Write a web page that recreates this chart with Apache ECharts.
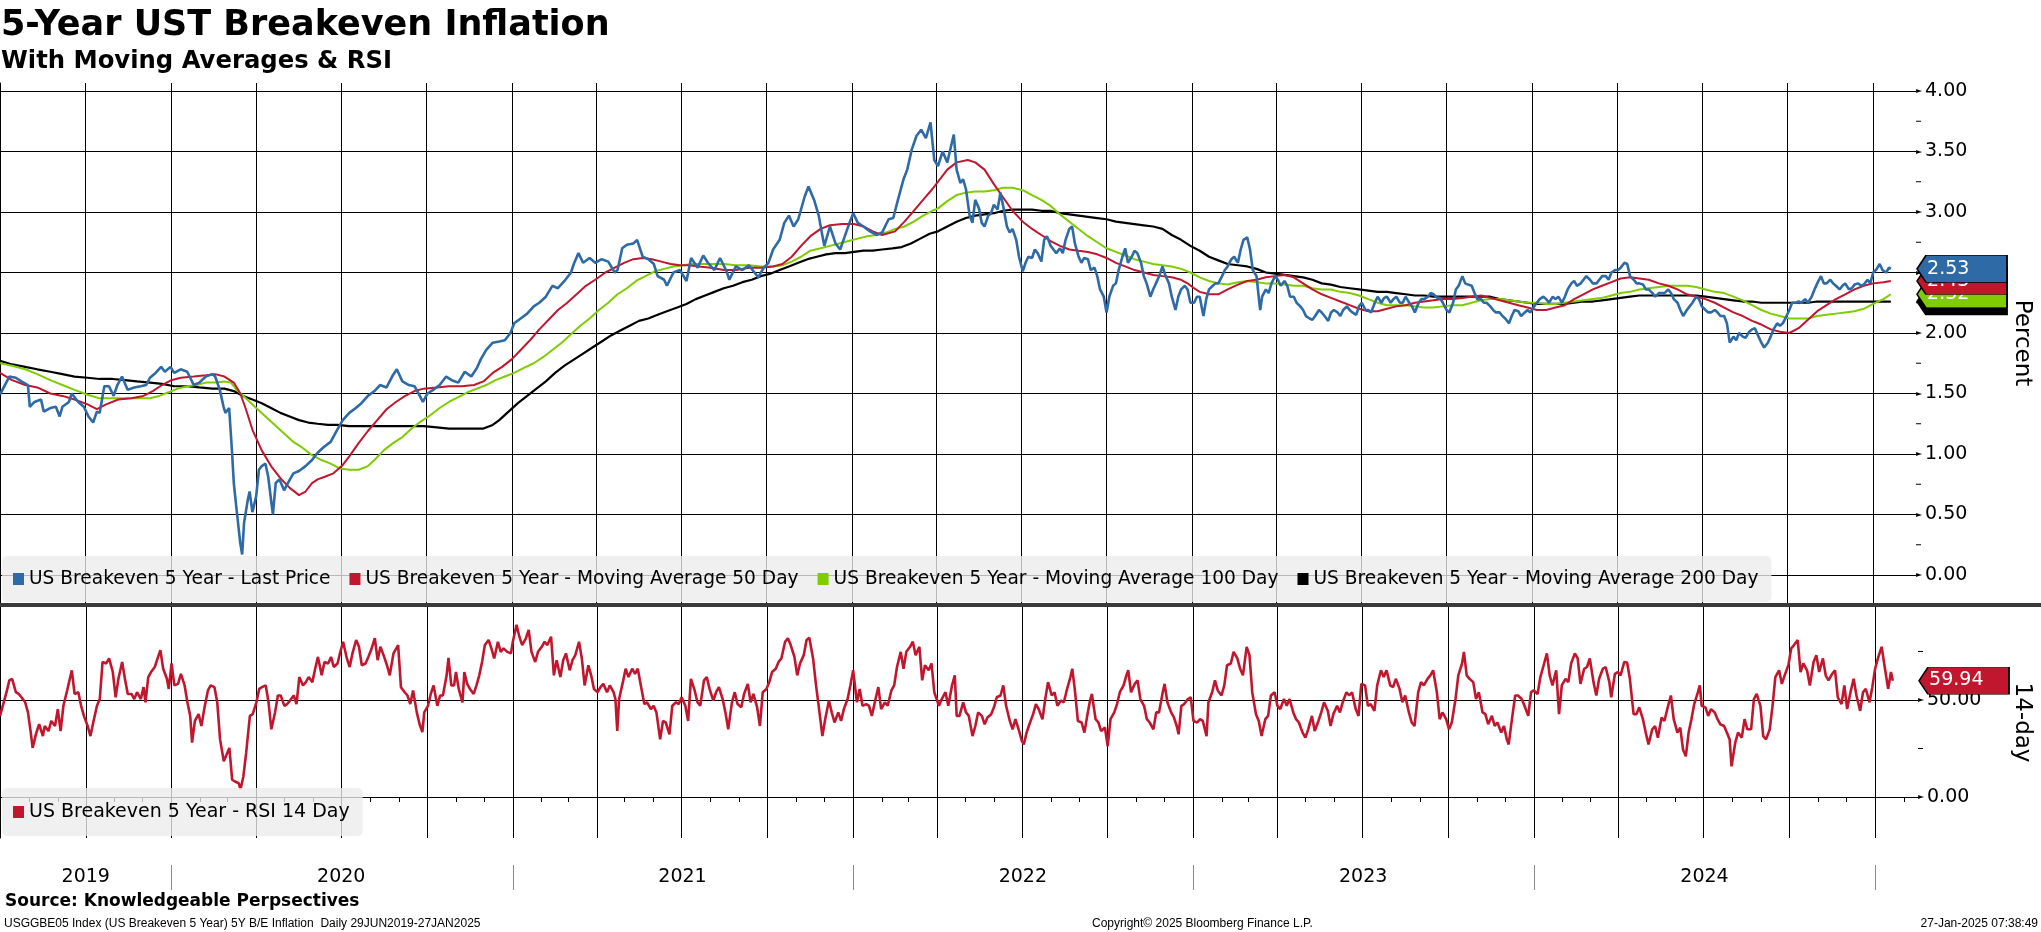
<!DOCTYPE html>
<html><head><meta charset="utf-8">
<script src="https://cdn.jsdelivr.net/npm/echarts@6/dist/echarts.min.js"></script>
<style>html,body{margin:0;padding:0;background:#fff}#c{width:2041px;height:932px}</style>
</head><body><div id="c"></div>
<script>
// x values are day offsets from 2019-07-01 (day 0)
const START = Date.UTC(2019, 6, 1);
const dayOf = s => Math.round((Date.parse(s + 'T00:00:00Z') - START) / 86400000);
const X_MAX_DATE = '2025-02-16';

const quarterLines = ['2019-10-01','2020-01-01','2020-04-01','2020-07-01','2020-10-01','2021-01-01','2021-04-01','2021-07-01','2021-10-01','2022-01-01','2022-04-01','2022-07-01','2022-10-01','2023-01-01','2023-04-01','2023-07-01','2023-10-01','2024-01-01','2024-04-01','2024-07-01','2024-10-01','2025-01-01'];
const yearStarts = ['2020-01-01','2021-01-01','2022-01-01','2023-01-01','2024-01-01','2025-01-01'];
const yearLabelDates = ['2019-10-01','2020-07-01','2021-07-02','2022-07-02','2023-07-02','2024-07-02'];
const yearLabels = ['2019','2020','2021','2022','2023','2024'];
const priceTicks = [0,0.5,1,1.5,2,2.5,3,3.5,4];
const priceMinorTicks = [0.25,0.75,1.25,1.75,2.25,2.75,3.25,3.75];
const rsiTicks = [0,50];
const rsiMinorTicks = [25,75];

const names = {
  last: 'US Breakeven 5 Year - Last Price',
  ma50: 'US Breakeven 5 Year - Moving Average 50 Day',
  ma100: 'US Breakeven 5 Year - Moving Average 100 Day',
  ma200: 'US Breakeven 5 Year - Moving Average 200 Day',
  rsi: 'US Breakeven 5 Year - RSI 14 Day'
};

const lastPrice = [[0,1.49],[10,1.64],[17,1.63],[23,1.60],[30,1.57],[32,1.39],[37,1.43],[44,1.45],[47,1.35],[54,1.38],[60,1.39],[64,1.31],[67,1.39],[74,1.43],[77,1.50],[84,1.43],[90,1.39],[95,1.31],[100,1.26],[104,1.35],[107,1.34],[112,1.56],[117,1.56],[122,1.48],[126,1.57],[131,1.64],[137,1.53],[144,1.55],[151,1.56],[157,1.57],[161,1.63],[167,1.67],[173,1.72],[177,1.68],[183,1.72],[187,1.67],[194,1.70],[201,1.68],[208,1.57],[214,1.59],[221,1.64],[228,1.66],[231,1.64],[236,1.53],[240,1.39],[242,1.34],[246,1.38],[249,1.03],[251,0.76],[254,0.54],[258,0.26],[260,0.17],[262,0.43],[266,0.62],[268,0.69],[271,0.52],[275,0.65],[278,0.87],[281,0.90],[285,0.92],[288,0.81],[291,0.62],[293,0.50],[296,0.76],[300,0.79],[305,0.70],[309,0.76],[315,0.84],[321,0.86],[328,0.90],[335,0.95],[341,1.01],[348,1.06],[355,1.10],[362,1.20],[368,1.28],[375,1.34],[382,1.38],[388,1.42],[395,1.48],[402,1.52],[408,1.57],[415,1.55],[421,1.64],[426,1.70],[432,1.60],[439,1.57],[445,1.56],[450,1.49],[454,1.43],[459,1.50],[465,1.53],[472,1.57],[479,1.64],[485,1.61],[492,1.59],[499,1.68],[506,1.64],[512,1.71],[516,1.78],[522,1.86],[529,1.92],[536,1.93],[542,1.94],[548,2.00],[552,2.08],[559,2.12],[566,2.16],[573,2.22],[579,2.25],[586,2.30],[593,2.39],[599,2.37],[606,2.43],[613,2.50],[616,2.57],[621,2.66],[626,2.58],[633,2.62],[639,2.58],[646,2.61],[653,2.59],[660,2.50],[663,2.52],[668,2.70],[673,2.73],[680,2.74],[684,2.77],[690,2.63],[696,2.61],[702,2.57],[706,2.47],[713,2.44],[716,2.39],[723,2.50],[730,2.52],[737,2.43],[742,2.62],[749,2.54],[755,2.64],[760,2.58],[767,2.52],[773,2.62],[780,2.51],[783,2.44],[790,2.55],[797,2.52],[804,2.56],[810,2.50],[814,2.46],[820,2.54],[825,2.58],[830,2.69],[837,2.77],[842,2.91],[847,2.97],[852,2.88],[857,2.94],[864,3.13],[868,3.21],[874,3.10],[879,2.97],[883,2.80],[885,2.72],[891,2.88],[897,2.74],[902,2.69],[907,2.80],[912,2.91],[916,2.99],[921,2.91],[927,2.88],[934,2.84],[941,2.81],[947,2.83],[954,2.94],[959,2.95],[964,3.10],[970,3.27],[974,3.35],[979,3.52],[984,3.63],[989,3.68],[994,3.61],[999,3.74],[1003,3.43],
[1007,3.38],[1012,3.50],[1017,3.41],[1024,3.64],[1027,3.35],[1031,3.24],[1034,3.27],[1037,3.19],[1041,2.97],[1044,2.91],[1047,3.10],[1051,3.03],[1054,2.91],[1057,2.88],[1061,2.97],[1064,2.99],[1067,3.06],[1071,3.02],[1074,3.16],[1077,3.05],[1081,2.88],[1084,2.83],[1087,2.86],[1091,2.77],[1094,2.63],[1098,2.51],[1101,2.58],[1104,2.63],[1108,2.62],[1111,2.69],[1114,2.66],[1118,2.59],[1121,2.77],[1124,2.80],[1128,2.72],[1131,2.69],[1134,2.66],[1138,2.70],[1141,2.66],[1144,2.77],[1148,2.86],[1151,2.88],[1154,2.74],[1158,2.63],[1161,2.58],[1164,2.62],[1168,2.61],[1171,2.52],[1175,2.54],[1178,2.47],[1181,2.36],[1185,2.30],[1188,2.17],[1191,2.30],[1195,2.39],[1198,2.41],[1201,2.52],[1205,2.63],[1208,2.70],[1211,2.58],[1215,2.63],[1218,2.68],[1221,2.66],[1225,2.58],[1228,2.47],[1231,2.41],[1235,2.30],[1238,2.36],[1241,2.41],[1245,2.48],[1248,2.55],[1251,2.48],[1255,2.41],[1258,2.30],[1262,2.19],[1265,2.30],[1268,2.36],[1272,2.39],[1275,2.36],[1278,2.25],[1282,2.25],[1285,2.30],[1288,2.30],[1292,2.14],[1295,2.28],[1298,2.36],[1302,2.39],[1305,2.41],[1308,2.41],[1312,2.47],[1315,2.52],[1318,2.55],[1322,2.61],[1325,2.63],[1329,2.58],[1332,2.69],[1335,2.77],[1339,2.79],[1342,2.69],[1345,2.52],[1349,2.47],[1352,2.25],[1353,2.19],[1355,2.30],[1359,2.36],[1362,2.33],[1365,2.41],[1369,2.47],[1372,2.44],[1375,2.39],[1379,2.43],[1382,2.39],[1385,2.30],[1389,2.30],[1392,2.25],[1396,2.22],[1399,2.19],[1402,2.14],[1406,2.12],[1409,2.11],[1412,2.14],[1416,2.19],[1419,2.17],[1422,2.14],[1426,2.10],[1429,2.17],[1432,2.19],[1436,2.17],[1439,2.14],[1442,2.19],[1446,2.22],[1449,2.19],[1452,2.17],[1456,2.15],[1459,2.22],[1462,2.25],[1466,2.19],[1469,2.19],[1472,2.17],[1476,2.25],[1479,2.30],[1483,2.25],[1486,2.29],[1489,2.30],[1493,2.25],[1496,2.28],[1499,2.30],[1503,2.25],[1506,2.25],[1509,2.30],[1513,2.25],[1516,2.22],[1519,2.17],[1523,2.25],[1526,2.28],[1529,2.28],[1533,2.30],[1536,2.33],[1539,2.32],[1543,2.29],[1546,2.29],[1549,2.25],[1553,2.19],[1556,2.17],[1560,2.25],[1563,2.36],[1566,2.39],[1570,2.47],[1573,2.41],[1576,2.40],[1580,2.39],[1583,2.33],[1586,2.28],[1590,2.28],[1593,2.25],[1596,2.25],[1600,2.22],[1603,2.19],[1606,2.17],[1610,2.17],[1613,2.14],[1616,2.12],[1620,2.08],[1623,2.14],[1626,2.19],[1630,2.18],[1633,2.14],[1637,2.17],[1640,2.19],[1643,2.17],[1647,2.22],[1650,2.25],[1653,2.28],[1657,2.30],[1660,2.28],[1663,2.25],[1667,2.30],[1670,2.28],[1673,2.30],[1677,2.25],[1680,2.30],[1683,2.36],[1687,2.41],[1690,2.43],[1693,2.39],[1697,2.41],[1700,2.44],[1703,2.47],[1707,2.44],[1710,2.41],[1714,2.41],[1717,2.44],[1720,2.47],[1724,2.47],[1727,2.44],[1730,2.50],[1734,2.52],[1737,2.52],[1740,2.54],[1744,2.58],[1747,2.57],[1750,2.47],[1754,2.44],[1757,2.41],[1760,2.41],[1764,2.40],[1767,2.36],[1770,2.36],[1774,2.33],[1777,2.30],[1781,2.33],[1784,2.33],[1787,2.33],[1791,2.36],[1794,2.33],[1797,2.28],[1801,2.25],[1804,2.19],[1807,2.14],[1811,2.19],[1814,2.22],[1817,2.25],[1821,2.30],[1824,2.28],[1827,2.22],[1831,2.19],[1834,2.17],[1837,2.17],[1841,2.19],[1844,2.17],[1847,2.14],[1851,2.14],[1854,2.08],[1857,1.92],[1861,1.97],[1864,1.94],[1867,2.00],[1871,1.97],[1874,1.96],[1878,2.01],[1881,2.03],[1884,2.04],[1888,1.97],[1891,1.92],[1894,1.88],[1898,1.92],[1901,1.97],[1904,2.03],[1908,2.08],[1911,2.06],[1914,2.08],[1918,2.14],[1921,2.19],[1924,2.25],[1928,2.25],[1931,2.26],[1934,2.25],[1938,2.28],[1941,2.25],[1945,2.30],[1948,2.36],[1951,2.41],[1955,2.47],[1958,2.41],[1961,2.41],[1965,2.44],[1968,2.41],[1971,2.39],[1975,2.36],[1978,2.39],[1981,2.41],[1985,2.36],[1988,2.37],[1991,2.40],[1995,2.41],[1998,2.39],[2001,2.40],[2005,2.44],[2008,2.41],[2011,2.50],[2014,2.52],[2018,2.57],[2021,2.52],[2025,2.50],[2028,2.54],[2030,2.53]];

const ma50 = [[0,1.67],[13,1.61],[27,1.57],[40,1.55],[54,1.50],[67,1.48],[80,1.45],[94,1.41],[104,1.37],[114,1.41],[127,1.45],[141,1.46],[154,1.48],[164,1.52],[174,1.57],[184,1.61],[194,1.63],[208,1.64],[221,1.65],[231,1.66],[241,1.64],[251,1.59],[258,1.50],[264,1.37],[271,1.20],[281,1.03],[291,0.90],[301,0.80],[311,0.72],[321,0.66],[328,0.69],[335,0.76],[341,0.79],[348,0.81],[358,0.84],[368,0.91],[375,0.98],[385,1.09],[395,1.19],[405,1.28],[415,1.37],[425,1.43],[435,1.48],[445,1.52],[455,1.54],[469,1.55],[482,1.56],[496,1.56],[509,1.57],[519,1.60],[529,1.67],[539,1.72],[549,1.78],[559,1.86],[569,1.94],[579,2.03],[589,2.11],[599,2.19],[609,2.25],[619,2.32],[629,2.39],[639,2.44],[650,2.50],[660,2.54],[670,2.58],[680,2.61],[690,2.62],[700,2.61],[710,2.59],[720,2.57],[730,2.56],[740,2.56],[750,2.55],[763,2.54],[777,2.52],[790,2.52],[804,2.54],[817,2.54],[830,2.55],[840,2.57],[850,2.63],[860,2.72],[870,2.80],[881,2.86],[891,2.89],[904,2.90],[917,2.90],[927,2.88],[937,2.84],[947,2.81],[961,2.84],[971,2.92],[981,3.01],[991,3.10],[1001,3.19],[1017,3.35],[1027,3.41],[1039,3.43],[1047,3.41],[1057,3.35],[1067,3.23],[1077,3.12],[1087,3.01],[1098,2.92],[1108,2.86],[1118,2.81],[1128,2.76],[1138,2.72],[1148,2.69],[1158,2.68],[1168,2.67],[1178,2.65],[1188,2.62],[1198,2.58],[1208,2.55],[1218,2.52],[1228,2.50],[1238,2.48],[1248,2.47],[1258,2.46],[1268,2.44],[1275,2.41],[1282,2.37],[1288,2.34],[1298,2.32],[1308,2.32],[1318,2.36],[1329,2.40],[1339,2.43],[1349,2.44],[1359,2.46],[1369,2.47],[1379,2.48],[1389,2.46],[1399,2.41],[1409,2.36],[1419,2.32],[1429,2.29],[1439,2.26],[1449,2.23],[1459,2.20],[1469,2.18],[1479,2.18],[1489,2.20],[1499,2.22],[1509,2.23],[1519,2.25],[1529,2.26],[1539,2.27],[1549,2.28],[1560,2.28],[1570,2.29],[1580,2.30],[1590,2.31],[1600,2.29],[1610,2.27],[1620,2.25],[1630,2.23],[1640,2.21],[1650,2.19],[1660,2.19],[1670,2.21],[1680,2.23],[1690,2.28],[1700,2.32],[1710,2.36],[1720,2.39],[1730,2.42],[1740,2.45],[1750,2.46],[1760,2.45],[1770,2.44],[1781,2.41],[1791,2.39],[1801,2.36],[1811,2.32],[1821,2.30],[1831,2.28],[1841,2.25],[1851,2.21],[1861,2.17],[1871,2.14],[1881,2.10],[1891,2.07],[1901,2.03],[1911,2.01],[1921,2.00],[1931,2.04],[1941,2.11],[1951,2.18],[1961,2.23],[1971,2.28],[1981,2.32],[1991,2.36],[2001,2.39],[2011,2.41],[2022,2.42],[2030,2.43]];

const ma100 = [[0,1.75],[13,1.73],[27,1.70],[40,1.66],[54,1.61],[67,1.57],[80,1.53],[94,1.49],[107,1.46],[121,1.46],[134,1.46],[147,1.46],[161,1.46],[171,1.48],[181,1.51],[191,1.54],[201,1.56],[211,1.57],[221,1.59],[231,1.59],[241,1.60],[248,1.59],[254,1.53],[264,1.46],[275,1.38],[285,1.31],[295,1.24],[305,1.17],[315,1.10],[325,1.05],[335,0.99],[345,0.95],[355,0.92],[365,0.88],[375,0.87],[385,0.87],[395,0.90],[402,0.95],[412,1.03],[422,1.09],[432,1.14],[442,1.21],[452,1.27],[462,1.32],[472,1.38],[482,1.43],[492,1.47],[502,1.51],[512,1.54],[522,1.57],[532,1.61],[542,1.64],[552,1.67],[562,1.71],[573,1.75],[583,1.80],[593,1.86],[603,1.92],[613,1.99],[623,2.06],[633,2.12],[643,2.19],[653,2.25],[663,2.32],[673,2.37],[683,2.43],[693,2.47],[703,2.51],[713,2.53],[723,2.55],[733,2.56],[743,2.57],[753,2.57],[763,2.57],[777,2.57],[790,2.56],[804,2.56],[817,2.55],[830,2.55],[840,2.56],[850,2.59],[860,2.63],[870,2.68],[881,2.70],[891,2.72],[901,2.74],[911,2.76],[921,2.78],[931,2.80],[941,2.81],[951,2.83],[961,2.86],[971,2.88],[981,2.92],[991,2.97],[1001,3.01],[1007,3.03],[1017,3.09],[1027,3.14],[1037,3.16],[1047,3.17],[1057,3.17],[1067,3.18],[1077,3.20],[1087,3.20],[1098,3.18],[1108,3.14],[1118,3.10],[1128,3.05],[1138,2.98],[1148,2.92],[1158,2.86],[1168,2.80],[1178,2.75],[1188,2.70],[1198,2.67],[1208,2.64],[1218,2.61],[1228,2.59],[1238,2.57],[1248,2.56],[1258,2.55],[1268,2.53],[1278,2.50],[1288,2.46],[1298,2.43],[1308,2.41],[1318,2.40],[1329,2.42],[1339,2.43],[1349,2.42],[1359,2.41],[1369,2.41],[1379,2.40],[1389,2.39],[1399,2.39],[1409,2.37],[1419,2.36],[1429,2.36],[1439,2.34],[1449,2.33],[1459,2.31],[1469,2.28],[1479,2.25],[1489,2.23],[1499,2.23],[1509,2.23],[1519,2.22],[1529,2.21],[1539,2.21],[1549,2.22],[1560,2.23],[1570,2.23],[1580,2.25],[1590,2.27],[1600,2.28],[1610,2.28],[1620,2.27],[1630,2.26],[1640,2.25],[1650,2.25],[1660,2.24],[1670,2.24],[1680,2.25],[1690,2.26],[1700,2.27],[1710,2.28],[1720,2.29],[1730,2.31],[1740,2.33],[1750,2.34],[1760,2.36],[1770,2.37],[1781,2.38],[1791,2.39],[1801,2.39],[1811,2.39],[1821,2.38],[1831,2.36],[1841,2.34],[1851,2.33],[1861,2.30],[1871,2.27],[1881,2.23],[1891,2.19],[1901,2.16],[1911,2.14],[1921,2.12],[1931,2.12],[1941,2.12],[1951,2.14],[1961,2.15],[1971,2.16],[1981,2.17],[1991,2.18],[2001,2.20],[2011,2.24],[2022,2.28],[2030,2.32]];

const ma200 = [[0,1.77],[13,1.74],[27,1.72],[40,1.70],[54,1.68],[67,1.66],[80,1.64],[94,1.63],[107,1.62],[121,1.62],[134,1.61],[147,1.60],[161,1.59],[174,1.58],[187,1.56],[201,1.56],[214,1.55],[228,1.54],[241,1.54],[251,1.52],[261,1.48],[271,1.45],[281,1.42],[291,1.38],[301,1.34],[311,1.31],[321,1.28],[331,1.26],[341,1.25],[352,1.24],[362,1.24],[375,1.23],[388,1.23],[402,1.23],[415,1.23],[429,1.23],[442,1.23],[455,1.23],[469,1.22],[482,1.21],[496,1.21],[509,1.21],[519,1.21],[529,1.24],[536,1.28],[546,1.35],[556,1.42],[566,1.48],[576,1.54],[586,1.60],[596,1.67],[606,1.73],[616,1.78],[626,1.83],[636,1.88],[646,1.93],[656,1.98],[666,2.02],[676,2.06],[686,2.10],[696,2.12],[706,2.15],[716,2.18],[727,2.21],[737,2.24],[747,2.28],[757,2.31],[767,2.34],[777,2.37],[787,2.39],[797,2.42],[807,2.44],[817,2.47],[827,2.49],[837,2.52],[847,2.55],[857,2.58],[867,2.61],[877,2.63],[887,2.65],[897,2.66],[907,2.66],[917,2.67],[927,2.68],[937,2.68],[947,2.69],[958,2.70],[968,2.71],[978,2.74],[988,2.78],[998,2.82],[1007,2.84],[1017,2.88],[1027,2.92],[1037,2.95],[1047,2.97],[1057,2.98],[1067,2.99],[1077,3.01],[1087,3.02],[1098,3.02],[1108,3.02],[1118,3.01],[1128,3.01],[1138,2.99],[1148,2.98],[1158,2.97],[1168,2.96],[1178,2.95],[1188,2.94],[1198,2.92],[1208,2.91],[1218,2.90],[1228,2.89],[1238,2.88],[1248,2.86],[1258,2.81],[1268,2.77],[1278,2.72],[1288,2.68],[1298,2.63],[1308,2.60],[1318,2.57],[1329,2.56],[1339,2.55],[1349,2.53],[1359,2.50],[1369,2.49],[1379,2.48],[1389,2.47],[1399,2.46],[1409,2.44],[1419,2.41],[1429,2.40],[1439,2.38],[1449,2.37],[1459,2.36],[1469,2.35],[1479,2.34],[1489,2.34],[1499,2.33],[1509,2.32],[1519,2.31],[1529,2.31],[1539,2.30],[1549,2.30],[1560,2.30],[1570,2.30],[1580,2.30],[1590,2.30],[1600,2.30],[1610,2.28],[1620,2.27],[1630,2.26],[1640,2.25],[1650,2.24],[1660,2.24],[1670,2.24],[1680,2.24],[1690,2.25],[1700,2.26],[1710,2.26],[1720,2.27],[1730,2.28],[1740,2.29],[1750,2.30],[1760,2.31],[1770,2.31],[1781,2.31],[1791,2.31],[1801,2.31],[1811,2.31],[1821,2.31],[1831,2.30],[1841,2.29],[1851,2.28],[1861,2.27],[1871,2.26],[1881,2.26],[1891,2.25],[1901,2.25],[1911,2.25],[1921,2.25],[1931,2.25],[1941,2.25],[1951,2.26],[1961,2.26],[1971,2.26],[1981,2.26],[1991,2.26],[2001,2.26],[2011,2.26],[2022,2.26],[2030,2.26]];

const rsi14 = [[0,41.8],[3,47.0],[7,54.0],[10,60.1],[13,60.9],[17,54.0],[20,53.1],[23,51.4],[27,48.8],[30,43.6],[33,33.2],[35,25.3],[39,33.2],[42,37.5],[46,31.4],[48,36.6],[52,34.0],[55,39.2],[59,36.6],[62,45.3],[65,34.0],[68,47.0],[72,54.9],[77,65.3],[80,53.1],[84,54.0],[87,47.0],[90,41.8],[94,36.6],[97,31.4],[100,38.4],[104,47.0],[107,50.5],[110,69.6],[114,68.8],[117,71.4],[121,64.4],[124,51.4],[127,60.9],[131,69.6],[134,60.9],[137,53.1],[141,53.1],[144,50.5],[147,54.0],[151,50.5],[154,56.6],[156,48.8],[159,61.8],[162,64.4],[166,67.0],[169,71.4],[172,75.7],[175,66.1],[179,60.9],[181,55.7],[184,68.8],[187,57.5],[191,58.3],[194,63.5],[198,57.5],[201,48.8],[204,41.8],[206,28.0],[209,39.2],[213,42.7],[216,36.6],[219,45.3],[223,54.9],[226,57.5],[230,56.6],[233,48.8],[236,29.7],[240,18.4],[242,17.5],[246,25.3],[249,8.9],[252,8.0],[256,7.1],[258,4.0],[261,10.6],[264,22.7],[268,41.8],[271,42.7],[275,48.8],[278,55.7],[281,56.6],[285,57.5],[288,48.8],[291,34.9],[295,43.6],[298,52.3],[301,52.3],[305,47.0],[308,47.9],[311,49.7],[315,52.3],[318,47.9],[321,61.8],[325,57.5],[328,59.2],[331,61.8],[335,59.2],[338,66.1],[341,72.2],[345,62.7],[348,69.6],[352,68.8],[355,72.2],[358,67.0],[362,68.8],[365,74.8],[368,80.0],[372,71.4],[375,67.0],[378,74.0],[382,80.9],[385,77.4],[388,67.9],[392,68.8],[395,72.2],[398,75.7],[402,81.8],[405,70.5],[408,77.4],[412,72.2],[415,67.9],[418,62.7],[422,74.0],[427,78.3],[430,56.6],[434,54.0],[437,52.3],[440,47.9],[443,54.9],[447,43.6],[450,37.5],[453,33.5],[455,43.6],[459,47.0],[462,53.1],[465,57.5],[469,47.0],[472,52.3],[475,52.3],[479,62.7],[481,71.7],[484,57.5],[487,57.5],[489,64.4],[492,55.7],[496,48.8],[498,64.4],[501,58.3],[504,55.7],[508,53.1],[511,57.5],[514,62.7],[517,69.6],[520,78.3],[524,80.9],[527,76.6],[530,71.4],[534,80.0],[537,74.8],[540,76.6],[544,74.8],[548,74.0],[550,80.0],[554,88.7],[557,82.6],[560,78.3],[564,81.8],[567,86.1],[570,74.8],[574,69.6],[577,74.8],[581,77.4],[584,80.0],[587,78.3],[591,82.6],[594,62.7],[597,70.5],[601,61.8],[604,70.5],[607,74.0],[611,65.3],[614,70.5],[617,73.1],[621,80.0],[624,71.4],[627,57.5],[631,67.9],[634,62.7],[637,55.7],[641,54.0],[644,56.6],[647,58.3],[651,54.0],[654,57.5],[658,54.0],[660,50.5],[662,34.0],[664,50.5],[668,59.2],[671,66.1],[674,61.8],[678,66.1],[681,63.5],[684,66.1],[688,55.7],[691,47.9],[694,48.8],[698,45.3],[701,47.0],[704,43.6],[708,29.7],[711,39.2],[714,38.4],[718,32.3],[721,47.0],[725,48.8],[728,47.9],[731,51.4],[735,47.0],[738,39.2],[741,60.9],[745,54.9],[748,48.8],[751,47.0],[755,60.1],[758,61.8],[761,55.7],[765,49.7],[768,54.0],[771,56.6],[775,50.5],[778,43.6],[781,34.9],[785,48.8],[788,54.0],[791,47.9],[795,46.2],[798,53.1],[802,58.3],[805,48.8],[808,53.1],[812,46.2],[815,36.6],[818,54.0],[822,55.7],[825,59.2],[828,64.4],[832,66.1],[835,69.6],[838,71.4],[842,80.0],[845,81.8],[848,78.3],[852,72.2],[855,62.7],[858,68.8],[862,73.1],[865,80.9],[868,82.1],[872,71.4],[875,58.3],[878,47.0],[882,31.4],[885,40.1],[889,49.7],[892,43.6],[895,38.4],[899,43.6],[902,39.2],[905,45.3],[909,50.5],[912,57.5],[915,65.3],[919,48.8],[922,55.7],[925,47.0],[929,47.9],[932,47.0],[935,41.8],[939,50.5],[942,56.6],[945,45.3],[949,48.8],[952,47.0],[956,54.9],[959,57.5],[962,67.0],[966,74.8],[969,66.1],[972,74.8],[976,77.4],[979,80.0],[982,73.1],[986,77.4],[989,60.1],[992,67.9],[996,65.3],[999,68.8],[1002,54.0],
[1007,47.0],[1010,50.5],[1014,54.0],[1017,47.0],[1021,57.5],[1024,62.7],[1026,41.8],[1029,41.8],[1033,48.8],[1036,43.6],[1039,41.8],[1043,31.4],[1046,36.6],[1049,43.6],[1053,41.8],[1056,37.5],[1059,41.0],[1063,42.7],[1066,46.2],[1069,51.4],[1073,52.3],[1076,57.5],[1079,47.0],[1083,39.2],[1086,34.9],[1089,40.1],[1093,34.0],[1096,28.8],[1098,27.1],[1101,33.2],[1104,37.5],[1108,42.7],[1111,47.9],[1114,45.3],[1118,40.1],[1121,50.5],[1124,59.2],[1128,52.3],[1131,54.0],[1134,47.0],[1138,49.7],[1141,48.8],[1144,54.9],[1148,61.8],[1150,66.1],[1153,54.0],[1156,39.2],[1160,38.4],[1163,33.2],[1166,41.8],[1169,49.7],[1171,53.1],[1175,40.1],[1178,38.4],[1181,34.0],[1185,35.8],[1188,26.2],[1191,40.1],[1195,43.6],[1198,47.9],[1201,54.0],[1205,57.5],[1208,62.7],[1210,65.3],[1213,54.0],[1217,58.3],[1220,60.1],[1223,50.5],[1227,47.0],[1230,40.1],[1233,38.4],[1237,34.9],[1240,43.6],[1243,43.6],[1247,54.0],[1249,58.3],[1252,48.8],[1256,43.6],[1259,41.0],[1262,36.6],[1264,32.3],[1267,47.0],[1270,47.9],[1274,50.5],[1277,51.4],[1280,39.2],[1284,38.4],[1287,40.1],[1290,39.2],[1294,31.4],[1296,48.8],[1300,54.0],[1303,60.1],[1306,54.9],[1310,52.3],[1313,57.5],[1316,67.9],[1320,68.8],[1323,74.8],[1327,71.4],[1330,66.1],[1333,62.7],[1337,77.4],[1340,73.1],[1343,54.0],[1347,42.7],[1350,39.2],[1353,31.4],[1357,40.1],[1360,41.8],[1363,52.3],[1367,54.0],[1370,47.0],[1373,45.3],[1377,50.5],[1380,47.0],[1383,50.5],[1387,43.6],[1390,40.1],[1393,38.4],[1397,33.2],[1400,30.6],[1403,34.9],[1407,41.8],[1410,34.0],[1414,39.2],[1417,43.6],[1420,48.8],[1424,44.4],[1427,36.6],[1430,42.7],[1434,47.0],[1437,43.6],[1440,48.8],[1444,54.0],[1447,52.3],[1450,54.0],[1454,45.3],[1457,41.8],[1460,58.3],[1464,57.5],[1467,47.0],[1470,47.9],[1474,44.4],[1477,57.5],[1481,65.3],[1484,61.8],[1487,65.3],[1491,57.5],[1494,56.6],[1497,60.9],[1501,55.7],[1504,48.8],[1507,52.3],[1511,43.6],[1514,38.4],[1517,36.6],[1521,54.0],[1524,59.2],[1527,57.5],[1531,60.9],[1534,62.7],[1537,65.3],[1541,54.0],[1544,40.1],[1547,43.6],[1551,40.1],[1554,34.9],[1557,38.4],[1561,50.5],[1564,62.7],[1568,68.8],[1570,74.8],[1573,62.7],[1576,60.9],[1580,59.2],[1583,50.5],[1586,54.0],[1590,43.6],[1593,42.7],[1596,37.5],[1600,41.8],[1603,36.6],[1606,38.4],[1610,33.2],[1613,36.6],[1616,29.7],[1618,27.1],[1622,41.8],[1625,52.3],[1628,52.3],[1632,50.5],[1635,47.0],[1639,41.8],[1642,54.0],[1645,54.9],[1649,53.1],[1652,61.8],[1655,67.0],[1659,74.0],[1662,62.7],[1665,57.5],[1669,65.3],[1672,42.7],[1675,57.5],[1679,60.9],[1682,59.2],[1685,68.8],[1689,74.0],[1692,71.4],[1695,58.3],[1699,66.1],[1702,67.0],[1705,71.4],[1709,59.2],[1712,52.3],[1715,60.9],[1719,66.1],[1722,67.0],[1726,59.2],[1728,51.4],[1732,63.5],[1735,64.4],[1738,62.7],[1742,69.6],[1745,69.3],[1748,60.9],[1752,42.7],[1755,42.7],[1758,46.2],[1762,40.1],[1765,33.2],[1768,27.1],[1772,34.9],[1775,36.6],[1778,30.6],[1782,41.0],[1785,39.2],[1789,47.0],[1792,52.3],[1795,40.1],[1799,33.2],[1802,35.8],[1805,24.5],[1808,21.0],[1811,33.2],[1814,40.1],[1817,47.9],[1821,54.0],[1823,57.5],[1825,47.0],[1829,46.2],[1832,41.8],[1835,45.3],[1839,43.6],[1842,40.1],[1845,37.5],[1849,36.6],[1852,33.2],[1855,29.7],[1857,15.8],[1861,28.0],[1864,33.2],[1868,30.6],[1871,40.1],[1874,34.9],[1878,34.9],[1881,50.5],[1884,53.1],[1888,47.0],[1891,31.4],[1894,29.7],[1898,34.9],[1901,47.0],[1904,61.8],[1908,65.3],[1911,58.3],[1914,62.7],[1918,67.9],[1921,76.6],[1924,78.3],[1928,80.9],[1931,64.4],[1934,68.8],[1938,65.3],[1941,57.5],[1945,69.6],[1948,73.1],[1951,64.4],[1955,71.4],[1958,62.7],[1961,60.1],[1965,63.5],[1968,65.3],[1971,51.4],[1975,47.9],[1978,57.5],[1981,45.3],[1985,54.9],[1988,60.9],[1991,52.3],[1995,44.4],[1998,54.0],[2001,55.7],[2005,48.8],[2008,56.6],[2011,66.1],[2014,71.4],[2018,77.4],[2021,67.9],[2025,55.7],[2028,64.4],[2030,59.94]];

const COLORS = { last: '#2d6aa6', ma50: '#c0172f', ma100: '#7fcc00', ma200: '#000000', rsi: '#c0172f' };
const FONT = 'DejaVu Sans';
const xMax = dayOf(X_MAX_DATE);

const monthStarts = [];
for (let y = 2019; y <= 2025; y++) for (let m = 1; m <= 12; m++) {
  const d = dayOf(y + '-' + String(m).padStart(2, '0') + '-01');
  if (d > 0 && d <= xMax) monthStarts.push(d);
}
const yearLabelDays = yearLabelDates.map(dayOf);

function tag(series, name, z) {
  const last = series[series.length - 1];
  return {
    symbol: 'path://M0,13.5L9,0L90,0L90,27L9,27Z',
    symbolSize: [90, 27], symbolKeepAspect: false, symbolOffset: [46, 0],
    z: z, silent: true, animation: false,
    itemStyle: { color: COLORS[name], borderColor: '#000', borderWidth: 1 },
    label: { show: true, position: [11, 13.5], align: 'left', verticalAlign: 'middle', color: '#fff', fontSize: 19, fontFamily: FONT,
      formatter: p => Number(p.value).toFixed(2) },
    data: [{ coord: [xMax, last[1]], value: last[1] }]
  };
}

function gridLines(values, axisKey) {
  return values.map(v => ({ [axisKey]: v }));
}

// right-axis labels: arrow + value for majors, a short dash (tick) for minors
const axisRich = {
  a: { fontSize: 8, width: 9, color: '#000', fontFamily: FONT, verticalAlign: 'middle' },
  t: { fontSize: 19, color: '#000', fontFamily: FONT, verticalAlign: 'middle' },
  m: { width: 5, height: 1, lineHeight: 1, fontSize: 1, backgroundColor: '#000', verticalAlign: 'middle' }
};
const axisFmt = majors => v => majors.some(m => Math.abs(m - v) < 1e-6) ? '{a|►}{t|' + v.toFixed(2) + '}' : '{m| }';

const lineBase = { type: 'line', showSymbol: false, symbol: 'none', smooth: false, animation: false, clip: true };

const option = {
  animation: false,
  backgroundColor: '#fff',
  textStyle: { fontFamily: FONT },
  title: {
    text: '5-Year UST Breakeven Inflation',
    subtext: 'With Moving Averages & RSI',
    left: 0, top: 8, padding: [0, 0, 0, 1], itemGap: 7,
    textStyle: { fontFamily: FONT, fontWeight: 'bold', fontSize: 35, color: '#000' },
    subtextStyle: { fontFamily: FONT, fontWeight: 'bold', fontSize: 24.3, color: '#000' }
  },
  grid: [
    { left: 0, top: 83, width: 1919, height: 520 },
    { left: 0, top: 607, width: 1919, height: 231 }
  ],
  legend: [
    { data: [names.last, names.ma50, names.ma100, names.ma200], left: 2, top: 556,
      icon: 'rect', itemWidth: 11, itemHeight: 12, itemGap: 19,
      padding: [12, 13, 12, 11], backgroundColor: 'rgba(236,236,236,0.78)', borderRadius: 5,
      textStyle: { fontSize: 18.6, color: '#000', fontFamily: FONT, lineHeight: 22 }, selectedMode: false },
    { data: [names.rsi], left: 2, top: 788,
      icon: 'rect', itemWidth: 11, itemHeight: 12,
      padding: [13, 13, 13, 11], backgroundColor: 'rgba(236,236,236,0.78)', borderRadius: 5,
      textStyle: { fontSize: 19, color: '#000', fontFamily: FONT, lineHeight: 22 }, selectedMode: false }
  ],
  xAxis: [
    { type: 'value', gridIndex: 0, min: 0, max: xMax, show: false },
    { type: 'value', gridIndex: 1, min: 0, max: xMax,
      axisLine: { show: true, lineStyle: { color: '#000', width: 1 } },
      axisTick: { show: true, customValues: monthStarts, length: 5, lineStyle: { color: '#000' } },
      axisLabel: { show: true, customValues: yearLabelDays, margin: 30, fontSize: 19, color: '#000', fontFamily: FONT,
        formatter: v => yearLabels[yearLabelDays.indexOf(Math.round(v))] || '' },
      splitLine: { show: false } },
    { type: 'value', gridIndex: 1, min: 0, max: xMax, position: 'bottom', offset: 27,
      axisLine: { show: false },
      axisTick: { show: true, customValues: yearStarts.map(dayOf), length: 25, lineStyle: { color: '#8c8c8c' } },
      axisLabel: { show: false }, splitLine: { show: false } }
  ],
  yAxis: [
    { type: 'value', gridIndex: 0, position: 'right', min: -0.2314, max: 4.066,
      axisLine: { show: true, lineStyle: { color: '#000', width: 1 } },
      axisTick: { show: false },
      axisLabel: { show: true, customValues: priceTicks.concat(priceMinorTicks), margin: 0,
        formatter: axisFmt(priceTicks), rich: axisRich },
      splitLine: { show: false },
      name: 'Percent', nameLocation: 'middle', nameRotate: -90, nameGap: 94,
      nameTextStyle: { fontSize: 23, color: '#000', fontFamily: FONT } },
    { type: 'value', gridIndex: 1, position: 'right', min: -21.1, max: 97.9,
      axisLine: { show: true, lineStyle: { color: '#000', width: 1 } },
      axisTick: { show: false },
      axisLabel: { show: true, customValues: rsiTicks.concat(rsiMinorTicks), margin: 0,
        formatter: axisFmt(rsiTicks), rich: axisRich },
      splitLine: { show: false },
      name: '14-day', nameLocation: 'middle', nameRotate: -90, nameGap: 92,
      nameTextStyle: { fontSize: 23, color: '#000', fontFamily: FONT } }
  ],
  series: [
    Object.assign({}, lineBase, { name: 'grid-upper', xAxisIndex: 0, yAxisIndex: 0, data: [], silent: true,
      markLine: { silent: true, z: 1, symbol: ['none', 'none'], label: { show: false }, animation: false,
        lineStyle: { color: '#000', width: 1, type: 'solid' }, emphasis: { disabled: true },
        data: gridLines(quarterLines.map(dayOf), 'xAxis').concat(gridLines(priceTicks, 'yAxis')) } }),
    Object.assign({}, lineBase, { name: 'grid-lower', xAxisIndex: 1, yAxisIndex: 1, data: [], silent: true,
      markLine: { silent: true, z: 1, symbol: ['none', 'none'], label: { show: false }, animation: false,
        lineStyle: { color: '#000', width: 1, type: 'solid' }, emphasis: { disabled: true },
        data: gridLines(quarterLines.map(dayOf), 'xAxis').concat(gridLines(rsiTicks, 'yAxis')) } }),
    Object.assign({}, lineBase, { name: names.ma200, xAxisIndex: 0, yAxisIndex: 0, data: ma200, z: 3,
      lineStyle: { color: COLORS.ma200, width: 2.2 }, itemStyle: { color: COLORS.ma200 }, markPoint: tag(ma200, 'ma200', 6) }),
    Object.assign({}, lineBase, { name: names.ma100, xAxisIndex: 0, yAxisIndex: 0, data: ma100, z: 3,
      lineStyle: { color: COLORS.ma100, width: 2 }, itemStyle: { color: COLORS.ma100 }, markPoint: tag(ma100, 'ma100', 7) }),
    Object.assign({}, lineBase, { name: names.ma50, xAxisIndex: 0, yAxisIndex: 0, data: ma50, z: 3,
      lineStyle: { color: COLORS.ma50, width: 2 }, itemStyle: { color: COLORS.ma50 }, markPoint: tag(ma50, 'ma50', 8) }),
    Object.assign({}, lineBase, { name: names.last, xAxisIndex: 0, yAxisIndex: 0, data: lastPrice, z: 3,
      lineStyle: { color: COLORS.last, width: 2.6 }, itemStyle: { color: COLORS.last }, markPoint: tag(lastPrice, 'last', 9) }),
    Object.assign({}, lineBase, { name: names.rsi, xAxisIndex: 1, yAxisIndex: 1, data: rsi14, z: 3,
      lineStyle: { color: COLORS.rsi, width: 2.6 }, itemStyle: { color: COLORS.rsi }, markPoint: tag(rsi14, 'rsi', 9) })
  ],
  graphic: [
    { type: 'rect', left: 0, top: 603, shape: { width: 2041, height: 4 }, style: { fill: '#3a3a3a' }, z: 10, silent: true },
    { type: 'text', x: 5, y: 902, z: 10, style: { text: 'Source: Knowledgeable Perpsectives', font: 'bold 17px "DejaVu Sans"', fill: '#000', textAlign: 'left', textVerticalAlign: 'middle' } },
    { type: 'text', x: 4, y: 924, z: 10, style: { text: 'USGGBE05 Index (US Breakeven 5 Year) 5Y B/E Inflation  Daily 29JUN2019-27JAN2025', font: '12px "Liberation Sans"', fill: '#000', textAlign: 'left', textVerticalAlign: 'middle' } },
    { type: 'text', x: 1092, y: 924, z: 10, style: { text: 'Copyright\u00a9 2025 Bloomberg Finance L.P.', font: '12px "Liberation Sans"', fill: '#000', textAlign: 'left', textVerticalAlign: 'middle' } },
    { type: 'text', x: 2038, y: 924, z: 10, style: { text: '27-Jan-2025 07:38:49', font: '12px "Liberation Sans"', fill: '#000', textAlign: 'right', textVerticalAlign: 'middle' } }
  ]
};

const chart = echarts.init(document.getElementById('c'), null, { renderer: 'canvas', width: 2041, height: 932 });
chart.setOption(option);
</script>
</body></html>
